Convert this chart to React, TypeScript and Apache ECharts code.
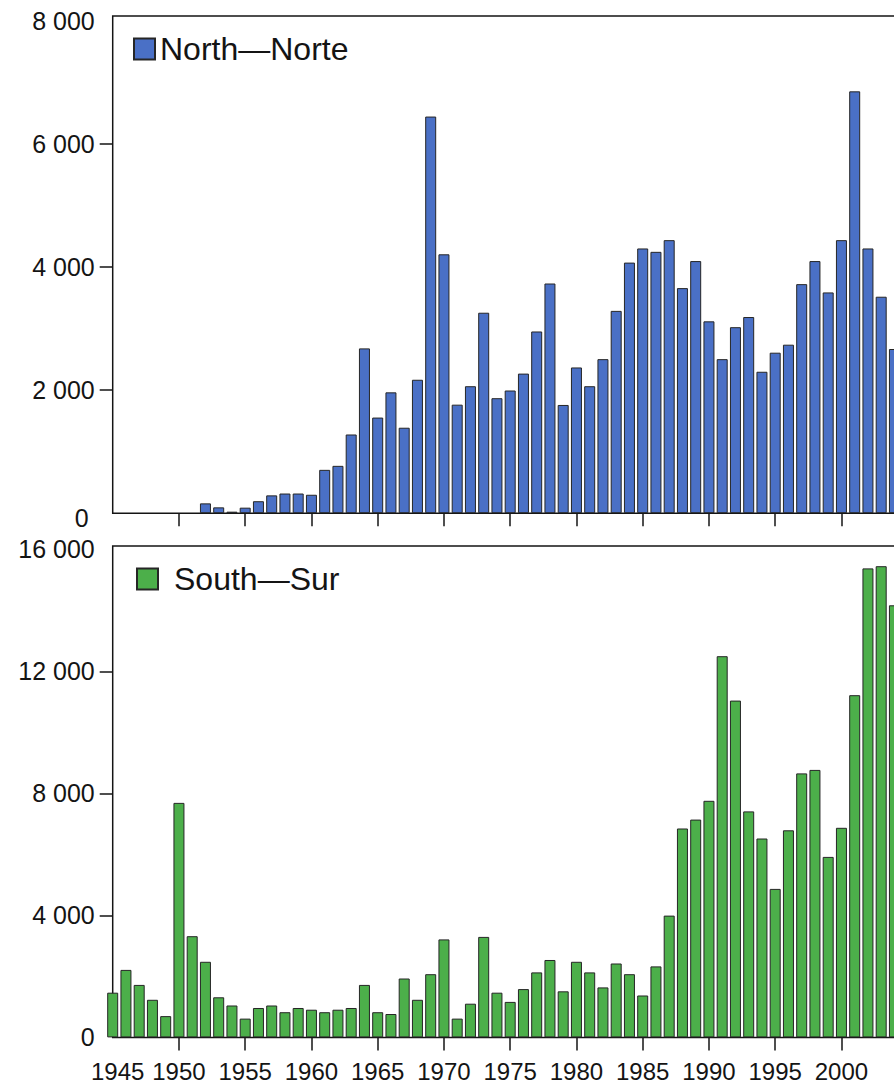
import React, { useEffect, useRef } from "react";
import * as echarts from "echarts";

const YEARS = [
  1945, 1946, 1947, 1948, 1949, 1950, 1951, 1952, 1953, 1954,
  1955, 1956, 1957, 1958, 1959, 1960, 1961, 1962, 1963, 1964,
  1965, 1966, 1967, 1968, 1969, 1970, 1971, 1972, 1973, 1974,
  1975, 1976, 1977, 1978, 1979, 1980, 1981, 1982, 1983, 1984,
  1985, 1986, 1987, 1988, 1989, 1990, 1991, 1992, 1993, 1994,
  1995, 1996, 1997, 1998, 1999, 2000, 2001, 2002, 2003, 2004,
];

const NORTH = [
  null, null, null, null, null, null, null, 160, 95, 25,
  90, 195, 290, 320, 320, 300, 705, 770, 1280, 2680,
  1555, 1965, 1390, 2170, 6450, 4210, 1765, 2065, 3260, 1870,
  1995, 2270, 2955, 3735, 1760, 2370, 2065, 2505, 3290, 4075,
  4305, 4250, 4440, 3660, 4100, 3120, 2505, 3025, 3190, 2300,
  2610, 2740, 3725, 4100, 3590, 4440, 6860, 4305, 3520, 2670,
];

const SOUTH = [
  1466, 2213, 1721, 1233, 698, 7689, 3318, 2479, 1315, 1046,
  616, 964, 1046, 826, 964, 908, 826, 908, 964, 1721,
  826, 767, 1931, 1233, 2072, 3213, 616, 1105, 3295, 1466,
  1164, 1584, 2131, 2538, 1511, 2479, 2131, 1639, 2423, 2072,
  1374, 2328, 3993, 6849, 7141, 7757, 12498, 11043, 7410, 6521,
  4869, 6790, 8656, 8770, 5918, 6872, 11220, 15377, 15449, 14167,
];

const NORTH_NAME = "North\u2014Norte";
const SOUTH_NAME = "South\u2014Sur";

const X_LABELS = [1945, 1950, 1955, 1960, 1965, 1970, 1975, 1980, 1985, 1990, 1995, 2000];
const X_TICKS = [1950, 1955, 1960, 1965, 1970, 1975, 1980, 1985, 1990, 1995, 2000];
const NORTH_Y_LABELS = [0, 2000, 4000, 6000, 8000];
const NORTH_Y_TICKS = [2000, 4000, 6000];
const SOUTH_Y_LABELS = [0, 4000, 8000, 12000, 16000];
const SOUTH_Y_TICKS = [4000, 8000, 12000];

const FONT = "'Liberation Sans', Arial, Helvetica, sans-serif";
const INK = "#141414";
const BLUE = "#4a70c6";
const GREEN = "#4caf4a";

const fmt = (v: number) => String(v).replace(/\B(?=(\d{3})+(?!\d))/g, " ");

export default function App() {
  const ref = useRef<HTMLDivElement>(null);

  useEffect(() => {
    if (!ref.current) return;
    const chart = echarts.init(ref.current, undefined, { renderer: "svg" });

    const pxPerYear = 13.25;
    const xMin = 1945;
    const xMax = 2006;
    const gridLeft = 112.7;
    const gridWidth = pxPerYear * (xMax - xMin);

    const tickStyle = { color: INK, width: 1.5 };

    const xAxisBase = (gridIndex: number, showLabels: boolean) => ({
      gridIndex,
      type: "value",
      min: xMin,
      max: xMax,
      interval: 5,
      axisLine: { show: false },
      splitLine: { show: false },
      axisTick: { show: true, customValues: X_TICKS, length: 13, inside: false, lineStyle: tickStyle },
      axisLabel: showLabels
        ? {
            show: true,
            customValues: X_LABELS,
            fontSize: 24,
            fontFamily: FONT,
            color: INK,
            margin: 22,
            formatter: (v: number) => (v === 1945 ? "{a|1945}" : String(v)),
            rich: { a: { fontSize: 24, fontFamily: FONT, color: INK, padding: [0, 0, 0, 10] } },
          }
        : { show: false },
    });

    const yAxisBase = (gridIndex: number, max: number, interval: number, labels: number[], ticks: number[], zeroShift: boolean) => ({
      gridIndex,
      type: "value",
      min: 0,
      max,
      interval,
      axisLine: { show: false },
      splitLine: { show: false },
      axisTick: { show: true, customValues: ticks, length: 13, inside: false, lineStyle: tickStyle },
      axisLabel: {
        show: true,
        customValues: labels,
        fontSize: 25,
        fontFamily: FONT,
        color: INK,
        margin: 18,
        formatter: (v: number) => {
          if (v % interval !== 0) return "";
          if (v === 0 && zeroShift) return "{z|0}";
          return fmt(v);
        },
        rich: { z: { fontSize: 25, fontFamily: FONT, color: INK, padding: [10, 6, 0, 0] } },
      },
    });

    const barStyle = (color: string) => ({ color, borderColor: "#262626", borderWidth: 1 });

    chart.setOption({
      animation: false,
      backgroundColor: "#ffffff",
      textStyle: { fontFamily: FONT },
      grid: [
        { left: gridLeft, top: 16, width: gridWidth, height: 497.2, show: true, borderColor: INK, borderWidth: 1.5, backgroundColor: "transparent" },
        { left: gridLeft, top: 546, width: gridWidth, height: 491.4, show: true, borderColor: INK, borderWidth: 1.5, backgroundColor: "transparent" },
      ],
      xAxis: [xAxisBase(0, false), xAxisBase(1, true)],
      yAxis: [
        yAxisBase(0, 8085, 2000, NORTH_Y_LABELS, NORTH_Y_TICKS, true),
        yAxisBase(1, 16111, 4000, SOUTH_Y_LABELS, SOUTH_Y_TICKS, false),
      ],
      legend: [
        {
          data: [NORTH_NAME],
          left: 133,
          top: 33,
          padding: 0,
          icon: "rect",
          itemWidth: 21,
          itemHeight: 21,
          selectedMode: false,
          textStyle: { fontSize: 32, fontFamily: FONT, color: INK },
        },
        {
          data: [SOUTH_NAME],
          left: 136,
          top: 563,
          padding: 0,
          icon: "rect",
          itemWidth: 21,
          itemHeight: 21,
          selectedMode: false,
          textStyle: { fontSize: 32, fontFamily: FONT, color: INK, padding: [0, 0, 0, 11] },
        },
      ],
      series: [
        {
          name: NORTH_NAME,
          type: "bar",
          xAxisIndex: 0,
          yAxisIndex: 0,
          barWidth: 11,
          clip: true,
          itemStyle: barStyle(BLUE),
          data: YEARS.map((y, i) => [y, NORTH[i]]),
        },
        {
          name: SOUTH_NAME,
          type: "bar",
          xAxisIndex: 1,
          yAxisIndex: 1,
          barWidth: 11,
          clip: true,
          itemStyle: barStyle(GREEN),
          data: YEARS.map((y, i) => [y, SOUTH[i]]),
        },
      ],
    });

    return () => chart.dispose();
  }, []);

  return (
    <div style={{ position: "absolute", left: 0, top: 0, width: 894, height: 1087, overflow: "hidden", background: "#fff" }}>
      <div ref={ref} style={{ width: 940, height: 1087 }} />
    </div>
  );
}
